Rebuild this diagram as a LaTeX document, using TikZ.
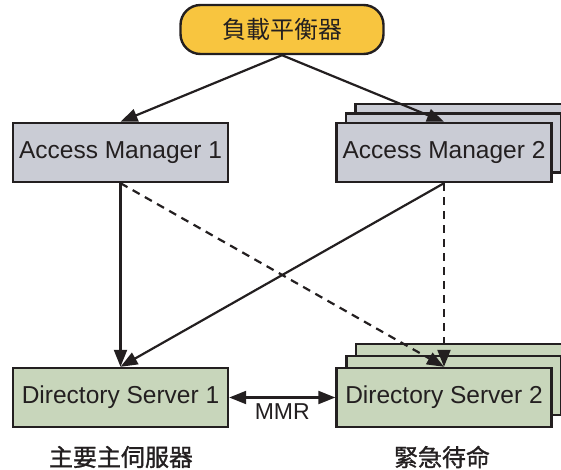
\documentclass[tikz,border=0pt]{standalone}
\usepackage{fontspec}
\setmainfont{Liberation Sans}
\newfontfamily\cjk{Noto Sans CJK TC}
\newfontfamily\cjkmid[FakeBold=1.2]{Noto Sans CJK TC}
\usetikzlibrary{arrows.meta}
\definecolor{ink}{HTML}{231F20}
\definecolor{lbfill}{HTML}{F8C53F}
\definecolor{amfill}{HTML}{CACCD5}
\definecolor{dsfill}{HTML}{C8D6BB}
\begin{document}
\begin{tikzpicture}[x=1pt,y=-1pt,
  box/.style={draw=ink,line width=2.4pt,minimum width=215pt,minimum height=59pt,
    inner sep=0pt,font=\fontsize{24.5}{28}\selectfont,text=ink},
  am/.style={box,fill=amfill},
  ds/.style={box,fill=dsfill},
  head/.style={Triangle[length=17pt,width=13pt]},
  link/.style={draw=ink,line width=2.2pt,-{Triangle[length=17pt,width=13pt]}},
  backup/.style={link,dash pattern=on 8pt off 6pt},
  caption/.style={font=\cjkmid\fontsize{24}{28}\selectfont,text=ink}]
\useasboundingbox (0,0) rectangle (561,470);

% load balancer
\node[draw=ink,line width=2.4pt,fill=lbfill,rounded corners=20pt,
  minimum width=203pt,minimum height=49pt,inner sep=0pt,
  font=\cjk\fontsize{24}{28}\selectfont,text=ink] (lb) at (282,29.5) {負載平衡器};

% access managers (the second one is a stack of instances)
\node[am] (am1) at (120.5,152.5) {Access Manager 1};
\node[am] (am2c) at (463,133.5) {};
\node[am] (am2b) at (453.5,143) {};
\node[am] (am2) at (444,152.5) {Access Manager 2};

% directory servers (the second one is a stack of instances)
\node[ds] (ds1) at (120.5,397.5) {Directory Server 1};
\node[ds] (ds2c) at (463.5,373.5) {};
\node[ds] (ds2b) at (454,385.5) {};
\node[ds] (ds2) at (444,397.5) {Directory Server 2};

% connectors
\draw[link] (lb.south) -- (am1.north);
\draw[link] (lb.south) -- (am2.north);
\draw[link] (am1.south) -- (ds1.north);
\draw[link] (am2.south) -- (ds1.north);
\draw[backup] (am1.south) -- (ds2.north);
\draw[backup] (am2.south) -- (ds2.north);
\draw[draw=ink,line width=2.2pt,{Triangle[length=17pt,width=13pt]}-{Triangle[length=17pt,width=13pt]}]
  (ds1.east) -- node[below=2pt,font=\fontsize{23}{26}\selectfont,text=ink] (mmr) {MMR} (ds2.west);

% captions
\node[caption] (cap1) at (121,457) {主要主伺服器};
\node[caption] (cap2) at (442,457) {緊急待命};
\end{tikzpicture}
\end{document}
